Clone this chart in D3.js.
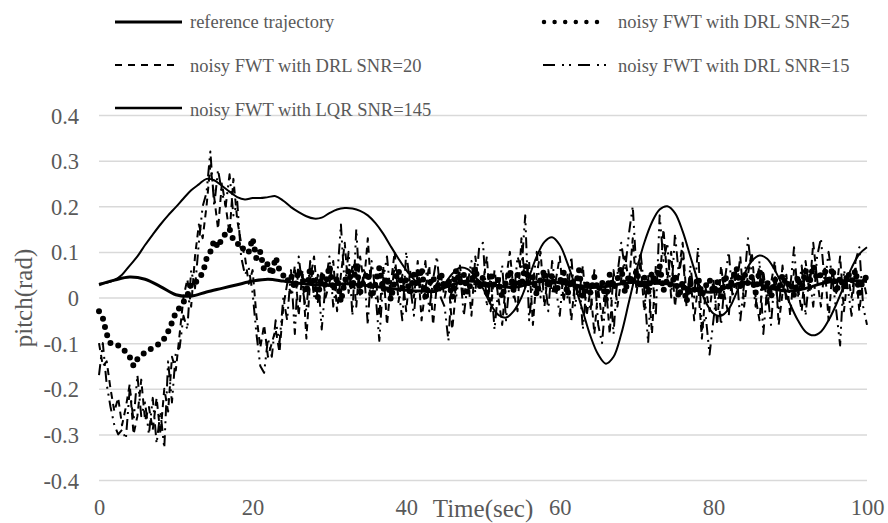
<!DOCTYPE html>
<html>
<head>
<meta charset="utf-8">
<script src="https://cdn.jsdelivr.net/npm/d3@7"></script>
<style>
  html, body { margin: 0; padding: 0; background: #fff; }
  svg { display: block; }
  text { font-family: "Liberation Serif", "Times New Roman", serif; fill: #595959; }
</style>
</head>
<body>
<div id="chart"></div>
<script>
// ---------- DATA ----------
const yTicks = [-0.4, -0.3, -0.2, -0.1, 0, 0.1, 0.2, 0.3, 0.4];
const yTickLabels = ["-0.4", "-0.3", "-0.2", "-0.1", "0", "0.1", "0.2", "0.3", "0.4"];
const xTicks = [0, 20, 40, 60, 80, 100];
const xTickLabels = ["0", "20", "40", "60", "80", "100"];

const seriesNames = [
  "reference trajectory",
  "noisy FWT with DRL SNR=25",
  "noisy FWT with DRL SNR=20",
  "noisy FWT with DRL SNR=15",
  "noisy FWT with LQR SNR=145"
];

// reference trajectory, every 2 s
const refTime = d3.range(0, 100.001, 2);
const refValues = [0.028, 0.038, 0.045, 0.04, 0.024, 0.006, 0.003, 0.012, 0.02, 0.028,
  0.036, 0.04, 0.036, 0.031, 0.028, 0.027, 0.03, 0.028, 0.024, 0.02,
  0.016, 0.014, 0.016, 0.028, 0.036, 0.032, 0.026, 0.022, 0.03, 0.037,
  0.032, 0.026, 0.022, 0.024, 0.03, 0.034, 0.032, 0.03, 0.024, 0.015,
  0.012, 0.024, 0.033, 0.028, 0.018, 0.014, 0.02, 0.03, 0.036, 0.037, 0.035];

// LQR SNR=145, every 1 s
const lqrTime = d3.range(0, 100.001, 1);
const lqrValues = [0.03, 0.032, 0.038, 0.05, 0.07, 0.09, 0.115, 0.138, 0.16, 0.18,
  0.198, 0.217, 0.235, 0.248, 0.26, 0.257, 0.245, 0.232, 0.22, 0.215,
  0.218, 0.218, 0.22, 0.222, 0.212, 0.198, 0.187, 0.178, 0.173, 0.175,
  0.185, 0.193, 0.196, 0.195, 0.19, 0.18, 0.163, 0.14, 0.112, 0.085,
  0.06, 0.04, 0.022, 0.012, 0.014, 0.03, 0.052, 0.065, 0.062, 0.045,
  0.02, -0.015, -0.038, -0.044, -0.03, 0.0, 0.045, 0.09, 0.122, 0.132,
  0.115, 0.075, 0.025, -0.03, -0.085, -0.125, -0.145, -0.13, -0.08, -0.01,
  0.06, 0.12, 0.165, 0.193, 0.2, 0.185, 0.145, 0.09, 0.035, -0.01,
  -0.035, -0.04, -0.025, 0.01, 0.05, 0.08, 0.092, 0.085, 0.06, 0.025,
  -0.015, -0.05, -0.075, -0.083, -0.075, -0.05, -0.015, 0.025, 0.065, 0.095, 0.11];

// DRL series, every 0.5 s
const drlTime = d3.range(0, 100.001, 0.5);
const snr25Values = [
  -0.03, -0.045, -0.08, -0.1, -0.1, -0.105, -0.11, -0.12, -0.13, -0.15,
  -0.135, -0.128, -0.12, -0.115, -0.11, -0.105, -0.1, -0.09, -0.075, -0.055,
  -0.033, -0.022, -0.01, 0.004, 0.03, 0.03, 0.045, 0.052, 0.085, 0.1,
  0.125, 0.11, 0.13, 0.14, 0.15, 0.125, 0.12, 0.105, 0.11, 0.1,
  0.13, 0.085, 0.1, 0.06, 0.075, 0.05, 0.088, 0.06, 0.048, 0.035,
  0.05, 0.02, 0.06, 0.04, 0.01, 0.065, 0.03, 0.0, 0.05, 0.025,
  0.07, 0.015, 0.045, -0.01, 0.035, 0.06, 0.02, 0.075, 0.01, 0.04,
  0.055, 0.0, 0.03, 0.065, 0.015, 0.045, -0.005, 0.035, 0.06, 0.02,
  0.04, 0.01, 0.05, 0.025, 0.065, 0.0, 0.03, 0.045, 0.015, 0.055,
  0.02, 0.04, 0.0, 0.06, 0.03, 0.05, 0.01, 0.035, 0.065, 0.02,
  0.045, 0.01, 0.055, 0.025, 0.04, 0.0, 0.035, 0.06, 0.015, 0.05,
  0.025, 0.07, 0.03, 0.045, 0.005, 0.04, 0.06, 0.02, 0.05, 0.01,
  0.035, 0.055, 0.005, 0.04, 0.02, 0.06, 0.0, 0.03, 0.01, 0.045,
  0.015, 0.035, -0.005, 0.05, 0.02, 0.04, 0.065, 0.01, 0.05, 0.03,
  0.06, 0.02, 0.045, 0.01, 0.055, 0.03, 0.07, 0.015, 0.04, 0.025,
  0.05, 0.0, 0.035, -0.01, 0.03, 0.015, 0.045, 0.005, 0.025, 0.04,
  0.01, 0.035, 0.0, 0.05, 0.02, 0.04, 0.065, 0.025, 0.055, 0.03,
  0.045, 0.01, 0.06, 0.02, 0.035, 0.0, 0.04, 0.015, 0.05, 0.025,
  0.035, 0.005, 0.045, 0.02, 0.06, 0.03, 0.07, 0.04, 0.05, 0.06,
  0.03, 0.065, 0.01, 0.045, 0.02, 0.055, 0.035, 0.06, 0.01, 0.04,
  0.045];

const snr20Values = [
  -0.1, -0.15, -0.14, -0.2, -0.25, -0.22, -0.28, -0.24, -0.19, -0.3,
  -0.26, -0.18, -0.27, -0.24, -0.29, -0.22, -0.3, -0.2, -0.25, -0.13,
  -0.16, -0.08, 0.0, 0.04, -0.02, 0.09, 0.16, 0.13, 0.2, 0.29,
  0.22, 0.15, 0.25, 0.2, 0.14, 0.26, 0.17, 0.12, 0.09, 0.03,
  0.06, -0.04, -0.11, -0.06, -0.13, -0.1, -0.07, -0.12, -0.02, 0.03,
  0.01, 0.07, -0.04, 0.06, -0.09, 0.04, 0.09, -0.01, 0.06, 0.0,
  0.03, 0.08, -0.03, 0.05, 0.12, 0.01, 0.07, -0.02, 0.09, 0.03,
  0.13, 0.0, 0.05, -0.04, 0.07, -0.06, 0.03, 0.1, -0.01, 0.05,
  -0.03, 0.06, 0.0, 0.08, -0.05, 0.02, 0.07, -0.06, 0.03, 0.05,
  0.0, 0.04, -0.07, 0.02, 0.07, 0.0, 0.05, -0.04, 0.09, 0.02,
  0.03, 0.09, -0.03, 0.06, 0.0, -0.06, 0.04, 0.1, 0.01, -0.03,
  0.13, 0.02, 0.08, -0.06, 0.05, 0.1, -0.02, 0.06, 0.01, 0.04,
  0.09, -0.01, 0.05, -0.05, 0.04, 0.0, 0.07, -0.04, 0.02, -0.08,
  0.02, -0.05, 0.03, -0.08, 0.06, -0.02, 0.04, 0.09, 0.03, 0.13,
  0.01, 0.08, -0.03, 0.05, -0.08, 0.07, 0.03, 0.15, 0.04, 0.1,
  -0.02, 0.06, 0.12, 0.0, 0.05, -0.05, 0.03, -0.09, 0.02, -0.03,
  0.04, -0.06, 0.07, 0.0, -0.04, 0.06, 0.02, 0.09, -0.02, 0.05,
  0.1, 0.0, -0.05, 0.06, -0.02, 0.03, 0.08, -0.06, 0.01, 0.05,
  -0.04, 0.06, 0.02, -0.03, 0.08, 0.01, 0.12, 0.04, -0.02, 0.07,
  -0.05, 0.06, 0.01, 0.09, -0.03, 0.05, 0.0, 0.07, -0.03, 0.04,
  0.0];

const snr15Values = [
  -0.17, -0.1, -0.19, -0.24, -0.28, -0.3, -0.29, -0.31, -0.2, -0.27,
  -0.17, -0.26, -0.23, -0.3, -0.22, -0.32, -0.25, -0.33, -0.14, -0.23,
  -0.12, -0.11, -0.04, -0.07, 0.06, 0.02, 0.12, 0.2, 0.23, 0.32,
  0.2, 0.28, 0.23, 0.2, 0.27, 0.18, 0.21, 0.09, 0.05, 0.065,
  0.01, -0.08, -0.15, -0.165, -0.09, -0.13, -0.05, -0.1, 0.0, -0.05,
  0.06, -0.08, 0.09, 0.02, -0.03, 0.08, 0.0, 0.05, -0.07, 0.03,
  0.09, -0.02, 0.04, 0.16, 0.02, 0.1, -0.04, 0.15, 0.0, 0.06,
  -0.06, 0.08, 0.01, -0.095, 0.04, 0.09, 0.0, 0.07, 0.02, -0.05,
  0.1, 0.03, -0.04, 0.06, 0.01, 0.08, -0.03, 0.04, 0.09, 0.0,
  -0.02, -0.095, 0.05, 0.0, 0.06, -0.04, 0.03, 0.08, 0.01, 0.11,
  0.12, -0.02, 0.05, -0.07, 0.02, 0.07, -0.05, 0.04, 0.0, 0.09,
  0.06, 0.18, -0.05, 0.03, 0.1, 0.0, 0.05, -0.03, 0.08, 0.02,
  -0.04, 0.06, 0.0, 0.09, -0.02, 0.05, -0.07, 0.03, -0.03, 0.06,
  -0.06, -0.1, 0.0, 0.04, -0.08, 0.05, 0.12, 0.06, 0.14, 0.2,
  0.05, 0.1, 0.02, -0.1, 0.06, -0.04, 0.18, 0.08, 0.12, 0.0,
  0.14, 0.05, 0.1, -0.02, 0.07, 0.0, 0.11, -0.07, -0.04, -0.125,
  -0.05, 0.02, -0.06, 0.04, 0.1, 0.0, 0.06, -0.05, 0.03, 0.13,
  0.05, -0.02, 0.08, -0.08, 0.02, -0.06, 0.05, -0.03, 0.07, -0.01,
  0.02, 0.11, 0.0, 0.07, -0.04, 0.05, -0.02, 0.09, 0.13, 0.03,
  0.1, 0.04, -0.03, -0.105, 0.06, 0.02, -0.04, 0.08, 0.11, -0.02,
  -0.06];

// ---------- CHART ----------
const W = 888, H = 523;
const plot = { left: 99, right: 867, top: 115, bottom: 480 };
const x = d3.scaleLinear().domain([0, 100]).range([plot.left, plot.right]);
const y = d3.scaleLinear().domain([-0.4, 0.4]).range([plot.bottom, plot.top]);

const svg = d3.select("#chart").append("svg").attr("width", W).attr("height", H);

// gridlines
const yAxis = d3.axisLeft(y).tickValues(yTicks).tickSize(-(plot.right - plot.left))
  .tickFormat((d, i) => yTickLabels[i]).tickPadding(20);
const gy = svg.append("g").attr("transform", `translate(${plot.left},0)`).call(yAxis);
gy.select(".domain").remove();
gy.selectAll(".tick line").attr("stroke", "#d9d9d9").attr("stroke-width", 1.5);
gy.selectAll(".tick text").attr("font-size", 22.5).attr("fill", "#595959")
  .attr("font-family", "Liberation Serif").attr("dy", "0.36em");

const xAxis = d3.axisBottom(x).tickValues(xTicks).tickSize(0)
  .tickFormat((d, i) => xTickLabels[i]).tickPadding(0);
const gx = svg.append("g").attr("transform", `translate(0,${plot.bottom})`).call(xAxis);
gx.select(".domain").remove();
gx.selectAll(".tick text").attr("font-size", 22.5).attr("fill", "#595959")
  .attr("font-family", "Liberation Serif").attr("dy", null).attr("y", 35);

// axis titles
svg.append("text").attr("x", 483).attr("y", 517).attr("text-anchor", "middle")
  .attr("font-size", 25).text("Time(sec)");
svg.append("text").attr("transform", "translate(32,298) rotate(-90)")
  .attr("text-anchor", "middle").attr("font-size", 25).text("pitch(rad)");

// series
const mk = (times, vals) => times.map((t, i) => [t, vals[i]]);
const lineLinear = d3.line().x(d => x(d[0])).y(d => y(d[1]));
const lineSmooth = d3.line().x(d => x(d[0])).y(d => y(d[1])).curve(d3.curveCatmullRom.alpha(0.5));

const styles = {
  ref:   { width: 3, dash: null, cap: "butt" },
  s25:   { width: 6, dash: "0 8.5", cap: "round" },
  s20:   { width: 2, dash: "7 5", cap: "butt" },
  s15:   { width: 2, dash: "11 5 2 5 2 5", cap: "butt" },
  lqr:   { width: 2, dash: null, cap: "butt" }
};

const g = svg.append("g");
function draw(data, st, gen) {
  g.append("path").datum(data).attr("d", gen).attr("fill", "none")
    .attr("stroke", "#000").attr("stroke-width", st.width)
    .attr("stroke-dasharray", st.dash).attr("stroke-linecap", st.cap)
    .attr("stroke-linejoin", "round");
}
draw(mk(drlTime, snr15Values), styles.s15, lineLinear);
draw(mk(drlTime, snr20Values), styles.s20, lineLinear);
draw(mk(drlTime, snr25Values), styles.s25, lineLinear);
draw(mk(lqrTime, lqrValues), styles.lqr, lineSmooth);
draw(mk(refTime, refValues), styles.ref, lineSmooth);

// legend
const legendItems = [
  { name: seriesNames[0], x0: 115, x1: 182, ly: 22, tx: 190, ty: 28, st: { width: 3, dash: null, cap: "butt" } },
  { name: seriesNames[1], x0: 544, x1: 607, ly: 22, tx: 618, ty: 28, st: { width: 4.5, dash: "0 10.6", cap: "round" } },
  { name: seriesNames[2], x0: 115, x1: 180, ly: 65, tx: 190, ty: 72, st: { width: 2, dash: "7 6", cap: "butt" } },
  { name: seriesNames[3], x0: 543, x1: 606, ly: 65, tx: 618, ty: 72, st: { width: 2, dash: "12 7 2 5 2 7", cap: "butt" } },
  { name: seriesNames[4], x0: 115, x1: 182, ly: 108, tx: 190, ty: 116, st: { width: 2.5, dash: null, cap: "butt" } }
];
const lg = svg.append("g");
legendItems.forEach(it => {
  lg.append("line").attr("x1", it.x0).attr("x2", it.x1).attr("y1", it.ly).attr("y2", it.ly)
    .attr("stroke", "#000").attr("stroke-width", it.st.width)
    .attr("stroke-dasharray", it.st.dash).attr("stroke-linecap", it.st.cap);
  lg.append("text").attr("x", it.tx).attr("y", it.ty).attr("font-size", 18.5).text(it.name);
});
</script>
</body>
</html>
